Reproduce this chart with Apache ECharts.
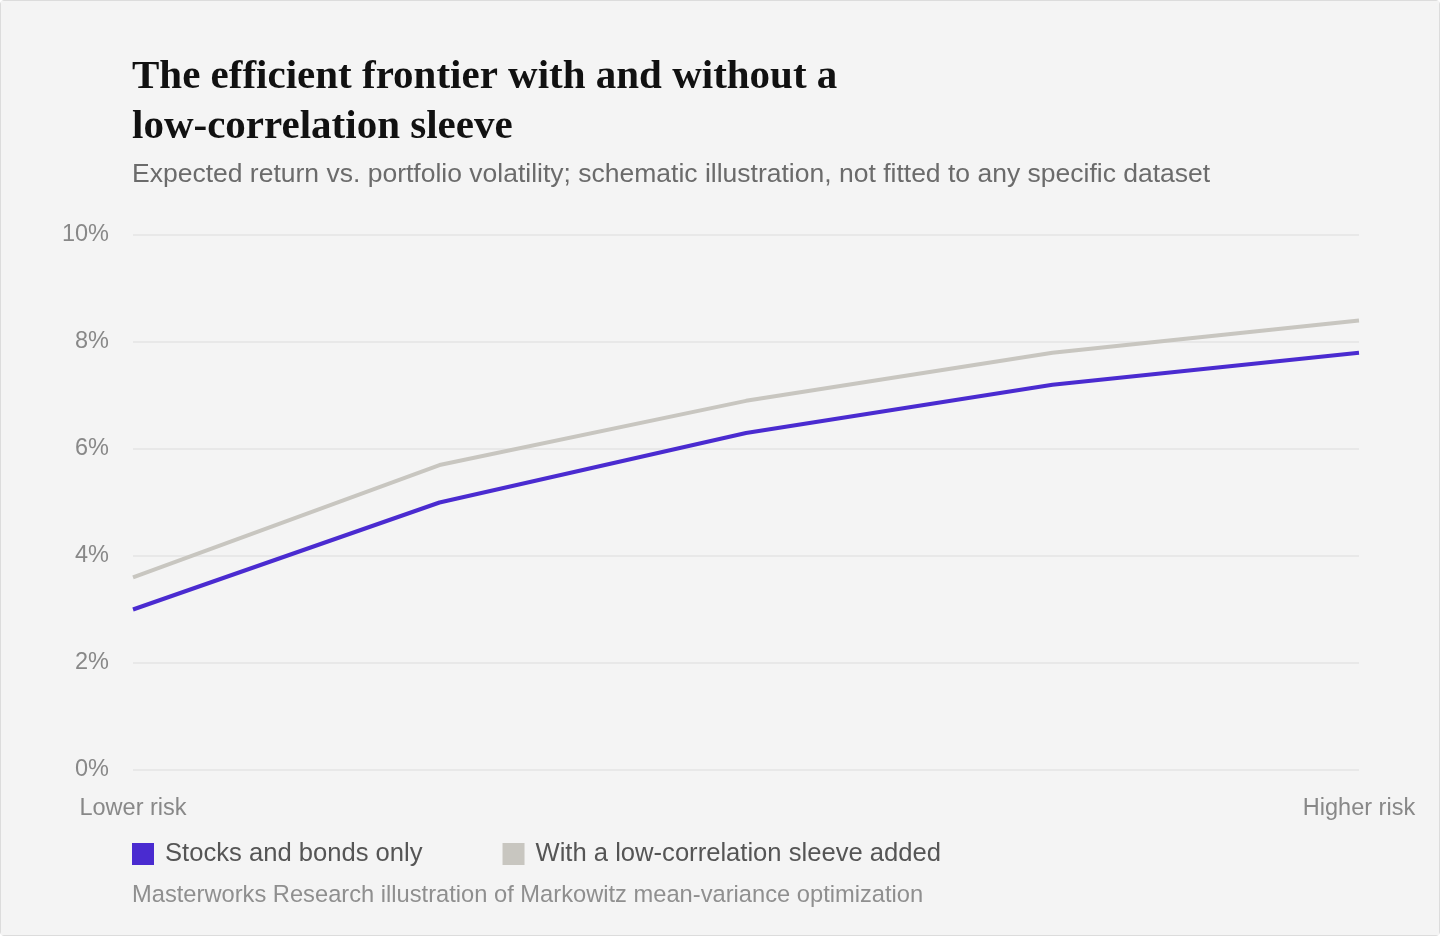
<!DOCTYPE html>
<html>
<head>
<meta charset="utf-8">
<script src="https://cdn.jsdelivr.net/npm/echarts@6/dist/echarts.min.js"></script>
<style>
  html, body { margin: 0; padding: 0; background: #ffffff; }
  #chart { width: 1438px; height: 934px; border: 1px solid #dcdcdc; border-radius: 4px; background: #f4f4f4; }
</style>
</head>
<body>
<div id="chart"></div>
<script>
// risk buckets along the frontier (only the ends are labelled)
const riskLabels = ["Lower risk", "", "", "", "Higher risk"];
const stocksBonds = [3.0, 5.0, 6.3, 7.2, 7.8];
const withSleeve = [3.6, 5.7, 6.9, 7.8, 8.4];
const seriesNames = ["Stocks and bonds only", "With a low-correlation sleeve added"];

const chart = echarts.init(document.getElementById("chart"), null, { renderer: "canvas" });

const option = {
  backgroundColor: "#f4f4f4",
  animation: false,
  title: [
    {
      text: "The efficient frontier with and without a\nlow-correlation sleeve",
      left: 131,
      top: 51,
      padding: 0,
      textStyle: {
        fontFamily: "Liberation Serif",
        fontWeight: "bold",
        fontSize: 41,
        lineHeight: 50,
        color: "#111111",
      },
    },
    {
      text: "Expected return vs. portfolio volatility; schematic illustration, not fitted to any specific dataset",
      left: 131,
      top: 160,
      padding: 0,
      textStyle: {
        fontFamily: "Liberation Sans",
        fontWeight: "normal",
        fontSize: 26.5,
        color: "#6b6b6b",
      },
    },
    {
      text: "Masterworks Research illustration of Markowitz mean-variance optimization",
      left: 131,
      top: 882,
      padding: 0,
      textStyle: {
        fontFamily: "Liberation Sans",
        fontWeight: "normal",
        fontSize: 23.7,
        color: "#8f8f8f",
      },
    },
  ],
  legend: {
    left: 131,
    top: 840,
    padding: 0,
    itemWidth: 22,
    itemHeight: 22,
    itemGap: 80,
    icon: "rect",
    textStyle: { fontFamily: "Liberation Sans", fontSize: 25.6, color: "#555555", padding: [0, 0, 0, 6] },
    data: seriesNames,
  },
  grid: { left: 132, right: 80, top: 234, bottom: 165, containLabel: false },
  xAxis: {
    type: "category",
    boundaryGap: false,
    data: riskLabels,
    axisLine: { show: false },
    axisTick: { show: false },
    axisLabel: {
      interval: 0,
      margin: 27,
      fontFamily: "Liberation Sans",
      fontSize: 23.5,
      color: "#888888",
    },
  },
  yAxis: {
    type: "value",
    min: 0,
    max: 10,
    interval: 2,
    axisLine: { show: false },
    axisTick: { show: false },
    axisLabel: {
      formatter: "{value}%",
      margin: 24,
      fontFamily: "Liberation Sans",
      fontSize: 23.5,
      color: "#888888",
    },
    splitLine: { lineStyle: { color: "#e4e4e4", width: 1.5 } },
  },
  series: [
    {
      name: seriesNames[0],
      type: "line",
      data: stocksBonds,
      showSymbol: false,
      z: 3,
      itemStyle: { color: "#4a2bd0" },
      lineStyle: { color: "#4a2bd0", width: 4 },
    },
    {
      name: seriesNames[1],
      type: "line",
      data: withSleeve,
      showSymbol: false,
      z: 2,
      itemStyle: { color: "#c8c6c0" },
      lineStyle: { color: "#c8c6c0", width: 4 },
    },
  ],
};

chart.setOption(option);
window.addEventListener("resize", () => chart.resize());
</script>
</body>
</html>
